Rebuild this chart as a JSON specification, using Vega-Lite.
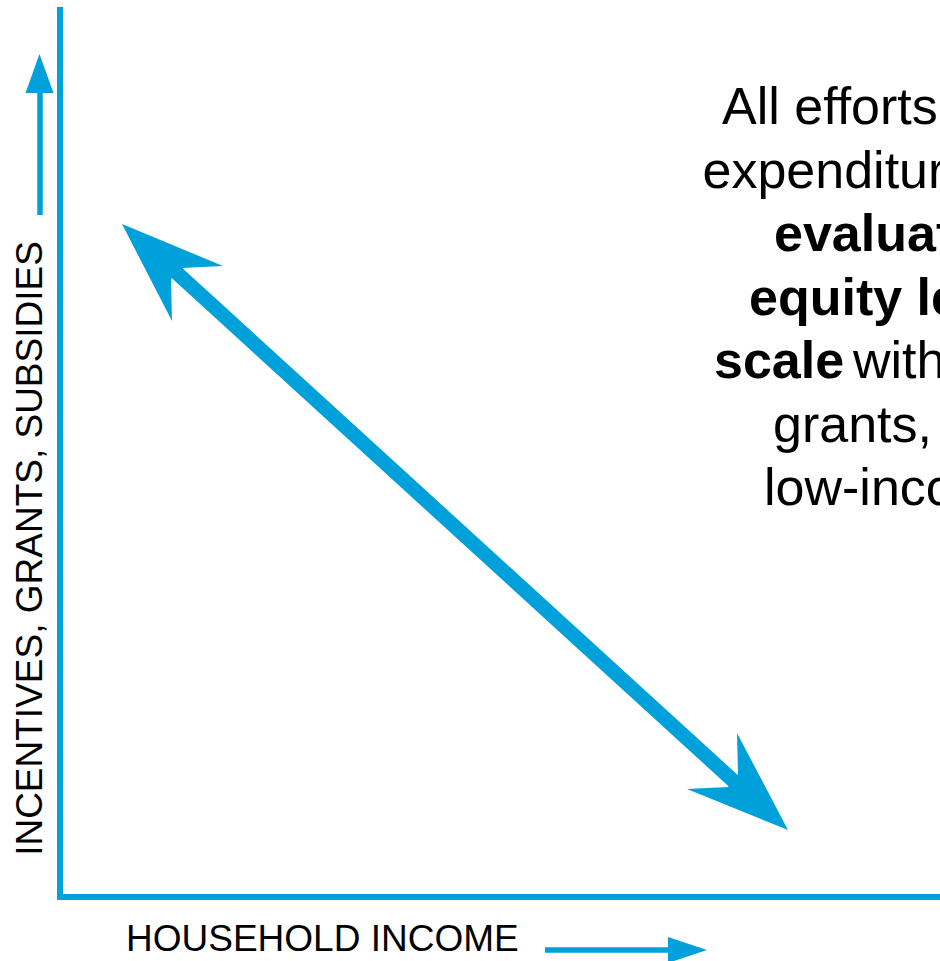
{
  "$schema": "https://vega.github.io/schema/vega-lite/v6.json",
  "width": 940,
  "height": 961,
  "autosize": "none",
  "padding": 0,
  "background": "#ffffff",
  "config": {"view": {"stroke": null}},
  "datasets": {
    "axisLines": [
      {"x": 60, "y": 7, "x2": 60, "y2": 900},
      {"x": 57, "y": 897, "x2": 945, "y2": 897}
    ],
    "smallShafts": [
      {"x": 40, "y": 215, "x2": 40, "y2": 90},
      {"x": 545, "y": 950, "x2": 672, "y2": 950}
    ],
    "mainShaft": [
      {"x": 171.6, "y": 268.1, "x2": 738.9, "y2": 785.9}
    ],
    "heads": [
      {"name": "up", "x": 39.5, "y": 54},
      {"name": "right", "x": 707, "y": 950},
      {"name": "start", "x": 122, "y": 224},
      {"name": "end", "x": 788, "y": 830}
    ],
    "plainText": [
      {"t": "All efforts and", "x": 722, "y": 124},
      {"t": "expenditures should be", "x": 702.5, "y": 187.5},
      {"t": "with more incentives,", "x": 853, "y": 378},
      {"t": "grants, subsidies for", "x": 773, "y": 441.5},
      {"t": "low-income households.", "x": 764, "y": 505}
    ],
    "boldText": [
      {"t": "evaluated with an", "x": 774, "y": 251},
      {"t": "equity lens/sliding", "x": 749, "y": 314.5},
      {"t": "scale", "x": 714, "y": 378}
    ],
    "yLabel": [
      {"t": "INCENTIVES, GRANTS, SUBSIDIES", "x": 42, "y": 548.5}
    ],
    "xLabel": [
      {"t": "HOUSEHOLD INCOME", "x": 126, "y": 951}
    ]
  },
  "encoding": {
    "x": {"field": "x", "type": "quantitative", "scale": {"domain": [0, 940], "nice": false, "zero": false}, "axis": null},
    "y": {"field": "y", "type": "quantitative", "scale": {"domain": [0, 961], "nice": false, "zero": false, "reverse": true}, "axis": null}
  },
  "layer": [
    {
      "data": {"name": "axisLines"},
      "mark": {"type": "rule", "color": "#00A0DA", "strokeWidth": 6},
      "encoding": {"x2": {"field": "x2"}, "y2": {"field": "y2"}}
    },
    {
      "data": {"name": "smallShafts"},
      "mark": {"type": "rule", "color": "#00A0DA", "strokeWidth": 5.5},
      "encoding": {"x2": {"field": "x2"}, "y2": {"field": "y2"}}
    },
    {
      "data": {"name": "mainShaft"},
      "mark": {"type": "rule", "color": "#00A0DA", "strokeWidth": 14.5},
      "encoding": {"x2": {"field": "x2"}, "y2": {"field": "y2"}}
    },
    {
      "data": {"name": "heads"},
      "transform": [{"filter": "datum.name === 'up'"}],
      "mark": {"type": "point", "shape": "M0,0L-0.14,0.39L0.14,0.39Z", "size": 40000, "filled": true, "opacity": 1, "strokeWidth": 0, "color": "#00A0DA"}
    },
    {
      "data": {"name": "heads"},
      "transform": [{"filter": "datum.name === 'right'"}],
      "mark": {"type": "point", "shape": "M0,0L-0.39,-0.13L-0.39,0.13Z", "size": 40000, "filled": true, "opacity": 1, "strokeWidth": 0, "color": "#00A0DA"}
    },
    {
      "data": {"name": "heads"},
      "transform": [{"filter": "datum.name === 'start'"}],
      "mark": {"type": "point", "shape": "M0,0L1.01,0.42L0.6,0.44L0.49,0.55L0.5,0.97Z", "size": 40000, "filled": true, "opacity": 1, "strokeWidth": 0, "color": "#00A0DA"}
    },
    {
      "data": {"name": "heads"},
      "transform": [{"filter": "datum.name === 'end'"}],
      "mark": {"type": "point", "shape": "M0,0L-0.51,-0.97L-0.5,-0.56L-0.6,-0.43L-1.01,-0.41Z", "size": 40000, "filled": true, "opacity": 1, "strokeWidth": 0, "color": "#00A0DA"}
    },
    {
      "data": {"name": "plainText"},
      "mark": {"type": "text", "align": "left", "baseline": "alphabetic", "font": "Liberation Sans", "fontSize": 52, "color": "#000000"},
      "encoding": {"text": {"field": "t"}}
    },
    {
      "data": {"name": "boldText"},
      "mark": {"type": "text", "align": "left", "baseline": "alphabetic", "font": "Liberation Sans", "fontSize": 52, "fontWeight": "bold", "color": "#000000"},
      "encoding": {"text": {"field": "t"}}
    },
    {
      "data": {"name": "yLabel"},
      "mark": {"type": "text", "align": "center", "baseline": "alphabetic", "angle": 270, "font": "Liberation Sans", "fontSize": 37, "color": "#000000"},
      "encoding": {"text": {"field": "t"}}
    },
    {
      "data": {"name": "xLabel"},
      "mark": {"type": "text", "align": "left", "baseline": "alphabetic", "font": "Liberation Sans", "fontSize": 37, "color": "#000000"},
      "encoding": {"text": {"field": "t"}}
    }
  ]
}
